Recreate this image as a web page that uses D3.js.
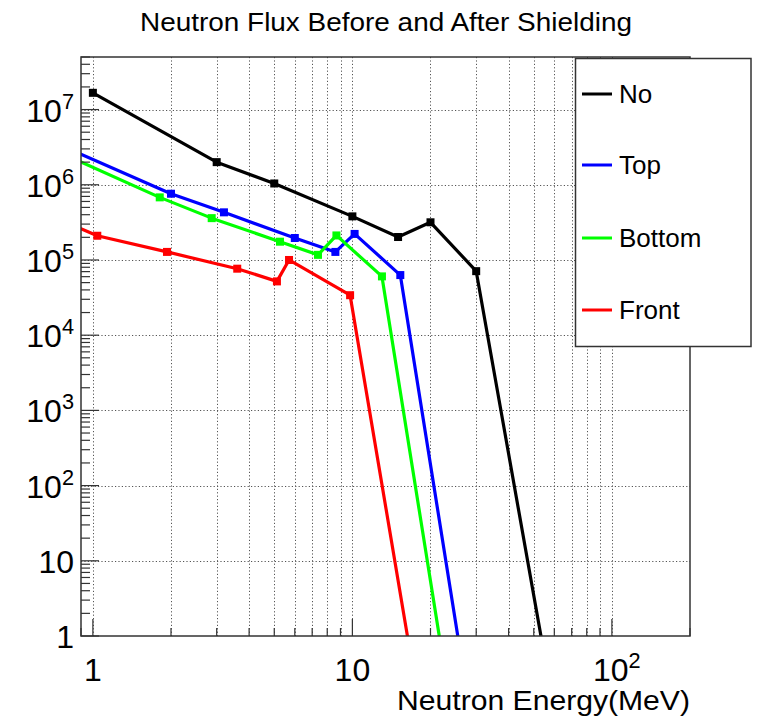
<!DOCTYPE html>
<html>
<head>
<meta charset="utf-8">
<script src="https://cdn.jsdelivr.net/npm/d3@7/dist/d3.min.js"></script>
<style>
  html, body { margin: 0; padding: 0; background: #fff; }
  svg { display: block; font-family: "Liberation Sans", Arial, Helvetica, sans-serif; }
</style>
</head>
<body>
<svg id="chart" width="759" height="718"></svg>
<script>
// ---- data ----
const chartTitle = "Neutron Flux Before and After Shielding";
const xAxisTitle = "Neutron Energy(MeV)";
const seriesNames = ["No", "Top", "Bottom", "Front"];
const seriesColors = ["#000000", "#0000ff", "#00ff00", "#ff0000"];

const energyNo     = [1, 3, 5, 10, 15, 20, 30, 60];
const fluxNo       = [1.67e7, 2.0e6, 1.04e6, 3.8e5, 2.02e5, 3.17e5, 7.1e4, 0.10];
const energyTop    = [0.8, 2, 3.2, 6, 8.6, 10.2, 15.3, 30];
const fluxTop      = [3.05e6, 7.6e5, 4.3e5, 1.96e5, 1.28e5, 2.22e5, 6.3e4, 0.029];
const energyBottom = [0.8, 1.81, 2.87, 5.26, 7.37, 8.68, 13.0, 25];
const fluxBottom   = [2.4e6, 6.8e5, 3.6e5, 1.75e5, 1.17e5, 2.12e5, 6.05e4, 0.043];
const energyFront  = [0.8, 1.04, 1.93, 3.6, 5.12, 5.7, 9.8, 20];
const fluxFront    = [3.09e5, 2.1e5, 1.28e5, 7.66e4, 5.19e4, 1.0e5, 3.4e4, 0.015];

const xDomain = [0.9, 200];
const yDomain = [1, 5e7];
const xTickValues = [1, 10, 100];
const xTickLabels = [["1", ""], ["10", ""], ["10", "2"]];
const yTickValues = [1, 10, 100, 1e3, 1e4, 1e5, 1e6, 1e7];
const yTickLabels = [["1", ""], ["10", ""], ["10", "2"], ["10", "3"], ["10", "4"], ["10", "5"], ["10", "6"], ["10", "7"]];

// ---- layout ----
const L = 81, R = 690, T = 57, B = 636;
const svg = d3.select("#chart");

const x = d3.scaleLog().domain(xDomain).range([L, R]);
const y = d3.scaleLog().domain(yDomain).range([B, T]);

const series = [
  { name: seriesNames[0], color: seriesColors[0], xs: energyNo, ys: fluxNo },
  { name: seriesNames[1], color: seriesColors[1], xs: energyTop, ys: fluxTop },
  { name: seriesNames[2], color: seriesColors[2], xs: energyBottom, ys: fluxBottom },
  { name: seriesNames[3], color: seriesColors[3], xs: energyFront, ys: fluxFront }
];

// minor tick values
function logMinor(lo, hi) {
  const out = [];
  for (let e = Math.floor(Math.log10(lo)); e <= Math.ceil(Math.log10(hi)); e++) {
    for (let m = 1; m <= 9; m++) {
      const v = m * Math.pow(10, e);
      if (v >= lo * 0.9999 && v <= hi * 1.0001) out.push(v);
    }
  }
  return out;
}
const xMinor = logMinor(xDomain[0], xDomain[1]);
const yMinor = logMinor(yDomain[0], yDomain[1]);

// ---- grid ----
const grid = svg.append("g").attr("stroke", "#555").attr("stroke-width", 1).attr("stroke-dasharray", "1.2,2.2");
grid.selectAll("line.gx").data(xMinor.filter(v => x(v) > L + 1 && x(v) < R - 1)).join("line")
  .attr("x1", d => Math.round(x(d)) + 0.5).attr("x2", d => Math.round(x(d)) + 0.5)
  .attr("y1", T).attr("y2", B);
grid.selectAll("line.gy").data(yTickValues.filter(v => y(v) < B - 1)).join("line")
  .attr("y1", d => Math.round(y(d)) + 0.5).attr("y2", d => Math.round(y(d)) + 0.5)
  .attr("x1", L).attr("x2", R);

// ---- data lines ----
svg.append("clipPath").attr("id", "plotclip").append("rect")
  .attr("x", L).attr("y", T).attr("width", R - L).attr("height", B - T);
const plot = svg.append("g").attr("clip-path", "url(#plotclip)");
const line = d3.line().x(d => x(d[0])).y(d => y(d[1]));
series.forEach(s => {
  const pts = s.xs.map((v, i) => [v, s.ys[i]]);
  plot.append("path").datum(pts)
    .attr("fill", "none").attr("stroke", s.color).attr("stroke-width", 3.2)
    .attr("stroke-linejoin", "round").attr("d", line);
  plot.selectAll(null).data(pts).join("rect")
    .attr("x", d => x(d[0]) - 4).attr("y", d => y(d[1]) - 4)
    .attr("width", 8).attr("height", 8).attr("fill", s.color);
});

// ---- ticks ----
const ticks = svg.append("g").attr("stroke", "#333").attr("stroke-width", 1.2);
ticks.selectAll("line.xt").data(xMinor).join("line")
  .attr("x1", d => x(d)).attr("x2", d => x(d))
  .attr("y1", B).attr("y2", d => B - (xTickValues.includes(d) ? 17 : 8));
ticks.selectAll("line.yt").data(yMinor).join("line")
  .attr("y1", d => y(d)).attr("y2", d => y(d))
  .attr("x1", L).attr("x2", d => L + (yTickValues.includes(d) ? 18 : 9));

// ---- frame ----
svg.append("rect").attr("x", L).attr("y", T).attr("width", R - L).attr("height", B - T)
  .attr("fill", "none").attr("stroke", "#333").attr("stroke-width", 1.5);

// ---- tick labels ----
const tickFont = 32;
function labelWithExp(sel, parts) {
  sel.append("tspan").text(parts[0]);
  if (parts[1]) {
    sel.append("tspan").attr("font-size", tickFont * 0.68).attr("dy", -13).text(parts[1]);
  }
}
xTickValues.forEach((v, i) => {
  const t = svg.append("text").attr("x", x(v) + (xTickLabels[i][1] ? 5 : 0)).attr("y", 681)
    .attr("text-anchor", "middle").attr("font-size", tickFont).attr("fill", "#000");
  labelWithExp(t, xTickLabels[i]);
});
yTickValues.forEach((v, i) => {
  const t = svg.append("text").attr("x", 74).attr("y", y(v) + 12)
    .attr("text-anchor", "end").attr("font-size", tickFont).attr("fill", "#000");
  labelWithExp(t, yTickLabels[i]);
});

// ---- titles ----
svg.append("text").attr("x", 140).attr("y", 31)
  .attr("font-size", 26).attr("fill", "#000")
  .attr("textLength", 492).attr("lengthAdjust", "spacingAndGlyphs").text(chartTitle);
svg.append("text").attr("x", 397).attr("y", 710)
  .attr("font-size", 28).attr("fill", "#000")
  .attr("textLength", 293).attr("lengthAdjust", "spacingAndGlyphs").text(xAxisTitle);

// ---- legend ----
const lg = svg.append("g");
lg.append("rect").attr("x", 575.5).attr("y", 58.5).attr("width", 175.5).attr("height", 288)
  .attr("fill", "#fff").attr("stroke", "#333").attr("stroke-width", 1.5);
const legendY = [94, 165, 238, 310];
series.forEach((s, i) => {
  lg.append("line").attr("x1", 582).attr("x2", 612).attr("y1", legendY[i]).attr("y2", legendY[i])
    .attr("stroke", s.color).attr("stroke-width", 3);
  lg.append("text").attr("x", 619).attr("y", legendY[i] + 9).attr("font-size", 26)
    .attr("fill", "#000").text(s.name);
});
</script>
</body>
</html>
